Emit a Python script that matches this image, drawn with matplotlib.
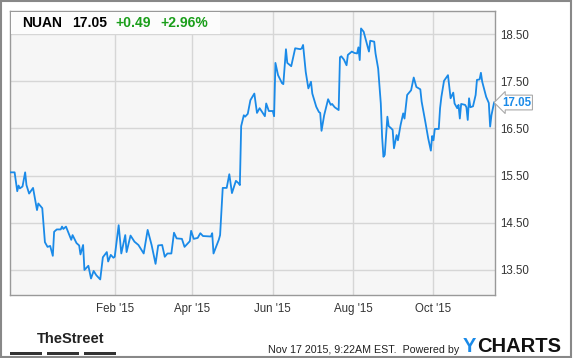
import matplotlib.pyplot as plt
import matplotlib.dates as mdates
from matplotlib.patches import Rectangle
import pandas as pd

# NUAN one-year price
start = pd.Timestamp('2014-11-14')
days = [0, 3, 5, 6, 7, 9, 11, 12, 14, 17, 20, 21, 24, 26, 28, 30, 32, 33, 35, 38,
        39, 40, 42, 46, 47, 50, 52, 53, 55, 56, 59, 61, 63, 65, 68, 70, 73, 74, 76, 78,
        79, 82, 84, 87, 88, 91, 94, 97, 101, 104, 107, 110, 112, 115, 117, 119, 122, 124, 126, 130,
        132, 136, 137, 139, 142, 144, 146, 152, 153, 154, 157, 158, 159, 161, 164, 166, 168, 171, 173, 174,
        175, 177, 178, 180, 182, 185, 187, 189, 193, 194, 196, 199, 200, 201, 203, 206, 207, 209, 210, 213,
        216, 220, 221, 222, 224, 226, 228, 229, 232, 234, 235, 236, 238, 241, 243, 244, 246, 249, 250, 251,
        253, 255, 256, 259, 261, 263, 264, 265, 266, 268, 270, 272, 273, 276, 277, 279, 281, 282, 283, 284,
        286, 287, 289, 290, 291, 293, 294, 296, 298, 299, 301, 304, 306, 308, 311, 312, 315, 317, 319, 320,
        321, 322, 325, 326, 327, 329, 332, 334, 336, 337, 339, 340, 341, 342, 345, 346, 347, 348, 349, 351,
        353, 354, 356, 357, 358, 361, 363, 364, 365, 367]
prices = [15.57, 15.57, 15.17, 15.29, 15.23, 15.27, 15.57, 15.30, 15.12, 15.24, 14.77, 14.91, 14.81, 14.09, 13.99, 14.01, 13.80, 14.31, 14.36, 14.36,
          14.42, 14.37, 14.42, 14.14, 14.24, 14.07, 14.02, 13.83, 14.03, 13.50, 13.59, 13.32, 13.48, 13.39, 13.30, 13.77, 13.88, 13.68, 13.82, 13.76,
          13.78, 14.45, 13.85, 14.24, 13.88, 14.23, 14.10, 14.03, 13.85, 14.35, 14.03, 13.63, 14.02, 14.03, 13.78, 13.85, 13.85, 14.29, 14.17, 14.16,
          13.99, 14.11, 14.33, 14.16, 14.18, 14.28, 14.22, 14.21, 14.28, 13.85, 14.07, 14.14, 14.24, 15.24, 15.24, 15.53, 15.13, 15.39, 15.34, 15.30,
          16.55, 16.78, 16.75, 16.81, 17.10, 17.24, 16.83, 16.93, 16.76, 17.03, 16.87, 16.87, 16.76, 17.89, 17.63, 17.46, 17.44, 18.18, 17.89, 17.82,
          18.20, 18.18, 18.20, 18.27, 17.70, 17.35, 17.49, 17.24, 16.96, 16.85, 16.83, 16.45, 16.78, 17.12, 17.00, 17.02, 16.95, 16.89, 18.01, 18.03,
          17.96, 17.84, 18.06, 18.13, 18.10, 18.09, 18.22, 17.95, 18.62, 18.55, 18.34, 18.13, 18.36, 18.34, 18.09, 17.77, 17.03, 16.32, 15.90, 15.94,
          16.75, 16.55, 16.50, 16.47, 16.08, 16.36, 16.25, 16.57, 16.82, 16.71, 17.21, 17.31, 17.58, 17.38, 17.33, 17.07, 16.61, 16.29, 16.03, 16.34,
          16.25, 16.49, 16.49, 16.93, 17.17, 17.51, 17.63, 17.14, 17.26, 17.03, 16.93, 17.00, 16.71, 17.02, 17.00, 16.95, 16.68, 17.14, 16.95, 16.97,
          17.21, 17.53, 17.54, 17.68, 17.49, 17.17, 17.04, 16.54, 16.78, 17.05]
dates = start + pd.to_timedelta(days, unit='D')

ticker = 'NUAN'
last = '17.05'
change = '+0.49'
pct = '+2.96%'
yticks = [13.5, 14.5, 15.5, 16.5, 17.5, 18.5]
xticks = ['2015-02-01', '2015-04-01', '2015-06-01', '2015-08-01', '2015-10-01']
xlabels = ["Feb '15", "Apr '15", "Jun '15", "Aug '15", "Oct '15"]

plt.rcParams['font.family'] = ['Liberation Sans', 'DejaVu Sans']
W, H = 575, 358
fig = plt.figure(figsize=(W / 100, H / 100), dpi=100)
fig.patch.set_facecolor('white')


def fx(px):
    return px / W


def fy(py):
    return 1 - py / H


ax = fig.add_axes([fx(10), fy(295), fx(495) - fx(10), fy(11) - fy(295)])
ax.set_facecolor('#f6f6f6')
blue = '#1a8ae8'
ax.plot(dates, prices, color=blue, lw=1.3, zorder=3)

ax.set_xlim(start - pd.Timedelta(days=0.5), start + pd.Timedelta(days=367.7))
ax.set_ylim(12.97, 18.99)
ax.set_xticks(pd.to_datetime(xticks))
ax.set_xticklabels(xlabels)
ax.set_yticks(yticks)
ax.set_yticklabels(['%.2f' % v for v in yticks])
ax.yaxis.tick_right()
ax.tick_params(axis='both', length=0, labelsize=8.3, labelcolor='#333333')
ax.tick_params(axis='y', pad=4)
ax.tick_params(axis='x', pad=6)
ax.grid(True, color='#d6d6d6', lw=1)
ax.set_axisbelow(True)
for s in ax.spines.values():
    s.set_color('#999999')
    s.set_linewidth(1)

# header box
fig.patches.append(Rectangle((fx(10.5), fy(34)), fx(220) - fx(10.5), fy(11.5) - fy(34),
                             transform=fig.transFigure, facecolor='#fcfcfc', edgecolor='none', zorder=5))
fig.text(fx(22), fy(23), ticker, fontsize=10, fontweight='bold', color='black', va='center', zorder=6)
fig.text(fx(72), fy(23), last, fontsize=10, fontweight='bold', color='black', va='center', zorder=6)
fig.text(fx(115), fy(23), change, fontsize=10, fontweight='bold', color='#1a9e1a', va='center', zorder=6)
fig.text(fx(160), fy(23), pct, fontsize=10, fontweight='bold', color='#1a9e1a', va='center', zorder=6)

# last price tag
ax.annotate(last, xy=(1, prices[-1]), xycoords=('axes fraction', 'data'),
            xytext=(5, 0), textcoords='offset points', va='center', ha='left',
            fontsize=8.3, fontweight='bold', color=blue, annotation_clip=False,
            bbox=dict(boxstyle='larrow,pad=0.12', facecolor='white', edgecolor='#aaaaaa', lw=0.8))

# footer
fig.text(fx(37), fy(339), 'TheStreet', fontsize=10.5, fontweight='bold', color='#222222', va='center',
         family=['Liberation Sans Narrow', 'Liberation Sans'])
for x0, x1 in [(10, 42), (47, 79), (84, 116)]:
    fig.patches.append(Rectangle((fx(x0), fy(355)), fx(x1) - fx(x0), fy(352) - fy(355),
                                 transform=fig.transFigure, facecolor='#333333', edgecolor='none'))
fig.text(fx(459), fy(350), 'Nov 17 2015, 9:22AM EST.  Powered by', fontsize=7.7, color='#222222',
         va='center', ha='right')
fig.text(fx(463), fy(346), 'Y', fontsize=14.5, fontweight='bold', color=blue, va='center')
fig.text(fx(477), fy(346), 'CHARTS', fontsize=14.5, fontweight='bold', color='#111111', va='center')

# outer frame
fig.patches.append(Rectangle((fx(0.5), fy(356.5)), fx(571) - fx(0.5), fy(0.5) - fy(356.5),
                             transform=fig.transFigure, facecolor='none', edgecolor='#888888', lw=1.5))

plt.savefig('out.png', dpi=100)
